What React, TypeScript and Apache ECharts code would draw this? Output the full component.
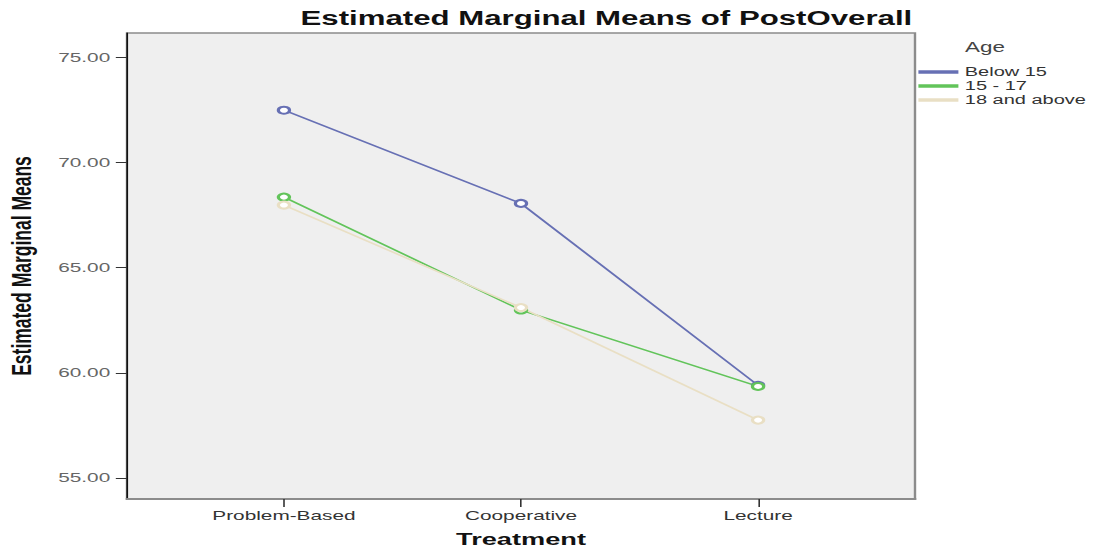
import React, { useEffect, useRef } from "react";
import * as echarts from "echarts";

const categories = ["Problem-Based", "Cooperative", "Lecture"];
const seriesNames = ["Below 15", "15 - 17", "18 and above"];
const below15 = [72.48, 68.05, 59.4];
const age15to17 = [68.35, 62.98, 59.35];
const age18plus = [67.97, 63.1, 57.75];
const yTicks = [55, 60, 65, 70, 75];
const xTicks = [0, 1, 2];
const colors = ["#6770b4", "#62c45a", "#e9dfc4"];

const S = 1.6; // horizontal stretch of the original picture
const W = 1096 / S;
const H = 552;
const FONT = "'Liberation Sans', Arial, sans-serif";

export default function App() {
  const ref = useRef<HTMLDivElement>(null);
  useEffect(() => {
    document.body.style.margin = "0";
    const chart = echarts.init(ref.current!, null, { renderer: "svg", width: W, height: H });
    const values = [below15, age15to17, age18plus];
    const gridLeft = 127 / S;
    const gridRight = W - 915 / S;
    chart.setOption({
      animation: false,
      textStyle: { fontFamily: FONT },
      grid: {
        left: gridLeft,
        right: gridRight,
        top: 33,
        bottom: 53,
        containLabel: false,
        outerBoundsMode: "none",
        show: true,
        backgroundColor: "#efefef",
        borderColor: "#8c8c8c",
        borderWidth: 1.5,
      },
      legend: {
        orient: "vertical",
        left: 569,
        top: 60,
        itemWidth: 23,
        itemHeight: 1.5,
        itemGap: 0,
        icon: "rect",
        data: seriesNames,
        textStyle: { fontFamily: FONT, fontSize: 12.5, color: "#333", lineHeight: 14 },
      },
      xAxis: {
        type: "value",
        min: -0.662,
        max: 2.662,
        name: "Treatment",
        nameLocation: "middle",
        nameGap: 32,
        nameTextStyle: { fontFamily: FONT, fontSize: 17, fontWeight: "bold", color: "#111" },
        axisLine: { show: true, onZero: false, lineStyle: { color: "#8c8c8c", width: 2 } },
        axisTick: { show: true, length: 8, customValues: xTicks, lineStyle: { color: "#333", width: 1 } },
        axisLabel: {
          customValues: xTicks,
          margin: 10,
          fontFamily: FONT,
          fontSize: 13,
          color: "#333",
          formatter: (v: number) => categories[Math.round(v)] ?? "",
        },
        splitLine: { show: false },
      },
      yAxis: {
        type: "value",
        min: 54.0,
        max: 76.15,
        name: "Estimated Marginal Means",
        nameLocation: "middle",
        nameGap: 57,
        nameTextStyle: { fontFamily: FONT, fontSize: 17.5, fontWeight: "bold", color: "#111" },
        axisLine: { show: true, onZero: false, lineStyle: { color: "#111", width: 1 } },
        axisTick: { show: true, length: 7, customValues: yTicks, lineStyle: { color: "#333", width: 1 } },
        axisLabel: {
          customValues: yTicks,
          margin: 10.5,
          fontFamily: FONT,
          fontSize: 13,
          color: "#666",
          formatter: (v: number) => v.toFixed(2),
        },
        splitLine: { show: false },
      },
      graphic: [
        {
          type: "text",
          style: {
            x: 379,
            y: 18,
            text: "Estimated Marginal Means of PostOverall",
            fontFamily: FONT,
            fontSize: 19.5,
            fontWeight: "bold",
            fill: "#111",
            align: "center",
            verticalAlign: "middle",
          },
        },
        {
          type: "text",
          style: {
            x: 615.6,
            y: 47,
            text: "Age",
            fontFamily: FONT,
            fontSize: 14,
            fill: "#444",
            align: "center",
            verticalAlign: "middle",
          },
        },
      ],
      series: seriesNames.map((name, i) => ({
        name,
        type: "line",
        data: values[i].map((v, j) => [j, v]),
        symbol: "emptyCircle",
        symbolSize: 7,
        color: colors[i],
        lineStyle: { color: colors[i], width: 1.5 },
        itemStyle: { color: colors[i], borderColor: colors[i], borderWidth: 1.5 },
      })),
    });
    return () => chart.dispose();
  }, []);
  return (
    <div style={{ position: "fixed", left: 0, top: 0, width: 1096, height: 552, overflow: "hidden", background: "#fff" }}>
      <div
        ref={ref}
        style={{ width: W, height: H, transform: `scaleX(${S})`, transformOrigin: "0 0" }}
      />
    </div>
  );
}
